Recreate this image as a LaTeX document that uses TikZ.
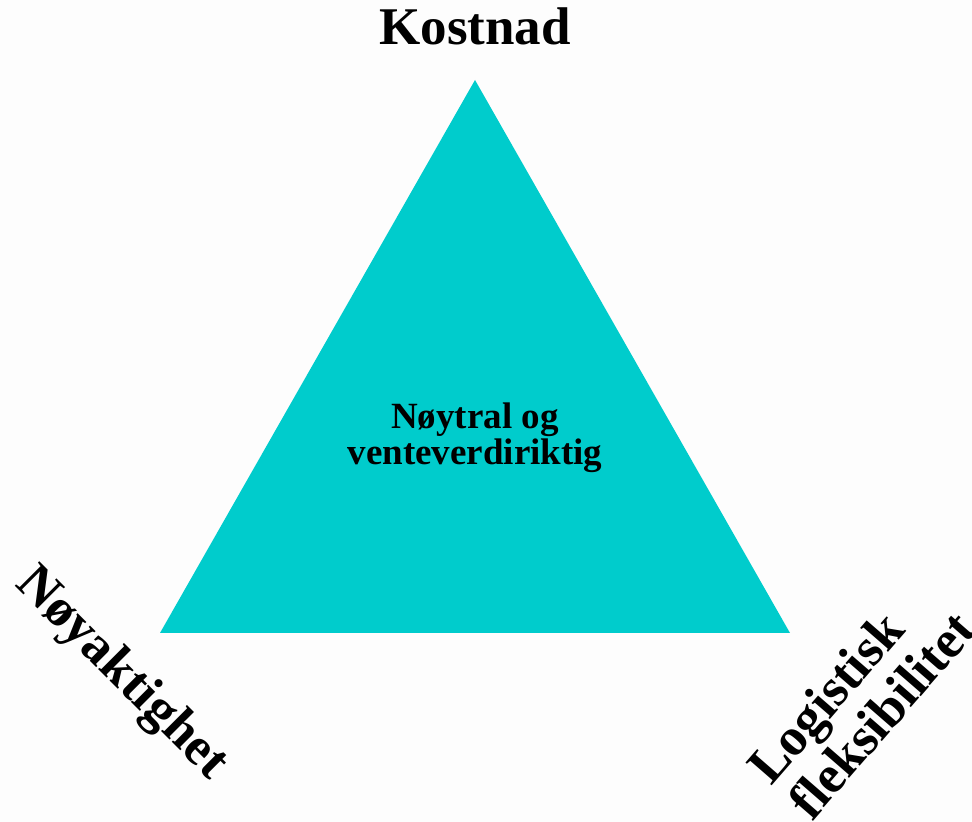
\documentclass[tikz,border=0pt]{standalone}
\usepackage{fontspec}
\setmainfont{Liberation Serif}
\usepackage{color}
\definecolor{tricyan}{RGB}{0,204,204}
\definecolor{paper}{RGB}{253,253,253}

\begin{document}
\begin{tikzpicture}
      [x = 1pt, y = 1pt,
      corner/.style= {
         font = \fontsize{53}{54}\selectfont\bfseries,
         inner sep = 0pt,
         align = center
      },
      inner/.style= {
         font = \fontsize{37}{36}\selectfont\bfseries,
         inner sep = 0pt,
         align = center
      }]

      \fill[paper] (0, 0) rectangle (972, 822);
      \useasboundingbox (0, 0) rectangle (972, 822);

      \coordinate (top) at (475, 742);
      \coordinate (left) at (160, 189);
      \coordinate (right) at (790, 189);
      \fill[tricyan] (top) -- (left) -- (right) -- cycle;

      \node[corner, anchor = base] (kostnad) at (475, 777) {Kostnad};
      \node[inner] (noytral) at (475, 384) {Nøytral og\\venteverdiriktig};
      \node[corner, rotate = -45] (noyaktighet) at (121, 148) {Nøyaktighet};
      \node[corner, rotate = 49, align = left] (logistisk) at (861, 125) {Logistisk\\fleksibilitet};

   \end{tikzpicture}
\end{document}
